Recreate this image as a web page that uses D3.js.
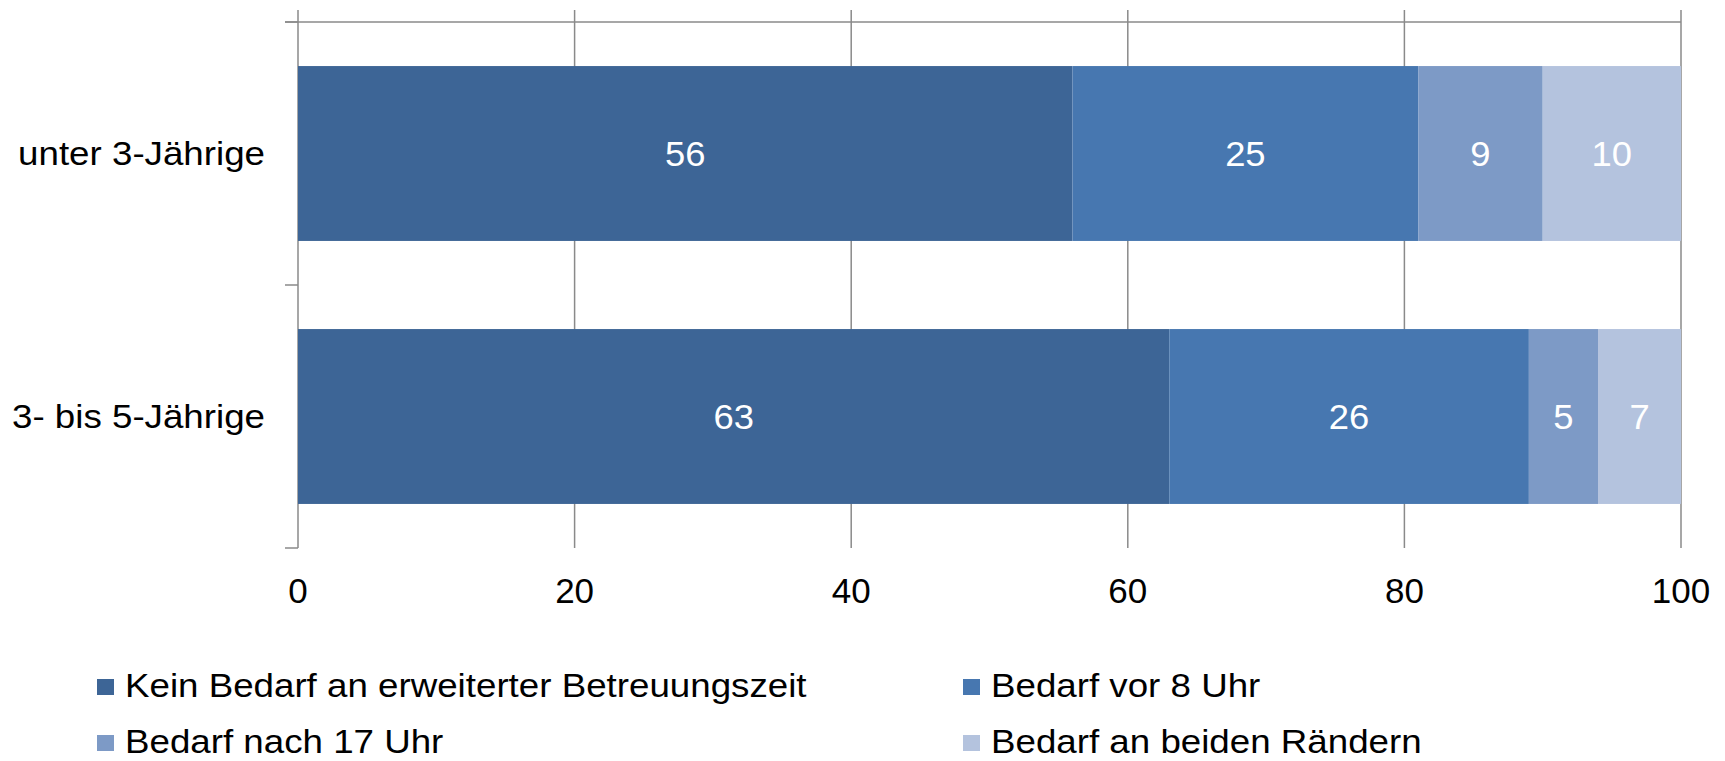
<!DOCTYPE html>
<meta charset="utf-8">
<script src="https://d3js.org/d3.v7.min.js"></script>
<style>
  body { margin: 0; background: #fff; }
  text { font-family: "Liberation Sans", Arial, sans-serif; }
</style>
<svg id="chart" width="1725" height="761"></svg>
<script>
  // data
  var categories = ["unter 3-Jährige", "3- bis 5-Jährige"];
  var series = ["Kein Bedarf an erweiterter Betreuungszeit", "Bedarf vor 8 Uhr",
                "Bedarf nach 17 Uhr", "Bedarf an beiden Rändern"];
  var kein = [56, 63];
  var vor8 = [25, 26];
  var nach17 = [9, 5];
  var beide = [10, 7];
  var xTicks = [0, 20, 40, 60, 80, 100];
  var colors = ["#3d6596", "#4777b0", "#7d9ac6", "#b4c3de"];

  var svg = d3.select("#chart");

  var x = d3.scaleLinear().domain([0, 100]).range([298, 1681]).clamp(true);
  var y = d3.scaleBand().domain(categories).range([22, 548])
      .paddingInner(0.335).paddingOuter(0.1675);

  var rows = categories.map(function(c, i) {
    return { cat: c, kein: kein[i], vor8: vor8[i], nach17: nach17[i], beide: beide[i] };
  });
  var keys = ["kein", "vor8", "nach17", "beide"];
  var stacked = d3.stack().keys(keys)(rows);

  // grid lines + top ticks
  svg.append("g")
    .selectAll("line")
    .data(xTicks)
    .enter()
    .append("line")
      .attr("x1", function(d){ return x(d) })
      .attr("x2", function(d){ return x(d) })
      .attr("y1", 10)
      .attr("y2", 548)
      .attr("stroke", "#8a8a8a")
      .attr("stroke-width", 1.5);

  // top axis line
  svg.append("line")
    .attr("x1", 285).attr("x2", x(100))
    .attr("y1", 22).attr("y2", 22)
    .attr("stroke", "#8a8a8a").attr("stroke-width", 1.5);

  // category axis ticks
  var catEdges = [22, (y(categories[0]) + y.bandwidth() + y(categories[1])) / 2, 548];
  svg.append("g")
    .selectAll("line")
    .data(catEdges)
    .enter()
    .append("line")
      .attr("x1", 285).attr("x2", 298)
      .attr("y1", function(d){ return d }).attr("y2", function(d){ return d })
      .attr("stroke", "#8a8a8a").attr("stroke-width", 1.5);

  // bars
  var layer = svg.append("g")
    .selectAll("g")
    .data(stacked)
    .enter()
    .append("g")
      .attr("fill", function(d, i){ return colors[i] });

  layer.selectAll("rect")
    .data(function(d){ return d })
    .enter()
    .append("rect")
      .attr("x", function(d){ return x(d[0]) })
      .attr("y", function(d){ return y(d.data.cat) })
      .attr("width", function(d){ return x(d[1]) - x(d[0]) })
      .attr("height", y.bandwidth());

  layer.selectAll("text")
    .data(function(d){ return d.map(function(p){ return { p: p, v: p[1] - p[0] } }) })
    .enter()
    .append("text")
      .attr("transform", function(d){
        return "translate(" + (x(d.p[0]) + x(d.p[1])) / 2 + "," + (y(d.p.data.cat) + y.bandwidth() / 2) + ") scale(1.04,1)";
      })
      .attr("dy", "0.35em")
      .attr("text-anchor", "middle")
      .attr("fill", "#fff")
      .style("font-size", "35px")
      .text(function(d){ return d.v });

  // x tick labels
  svg.append("g")
    .selectAll("text")
    .data(xTicks)
    .enter()
    .append("text")
      .attr("x", function(d){ return x(d) })
      .attr("y", 603)
      .attr("text-anchor", "middle")
      .style("font-size", "35px")
      .text(function(d){ return d });

  // category labels
  svg.append("g")
    .selectAll("text")
    .data(categories)
    .enter()
    .append("text")
      .attr("transform", function(d){
        return "translate(265," + (y(d) + y.bandwidth() / 2) + ") scale(1.08,1)";
      })
      .attr("dy", "0.35em")
      .attr("text-anchor", "end")
      .style("font-size", "34px")
      .text(function(d){ return d });

  // legend
  var legPos = [[97, 697], [963, 697], [97, 753], [963, 753]];
  var leg = svg.append("g")
    .selectAll("g")
    .data(series)
    .enter()
    .append("g")
      .attr("transform", function(d, i){ return "translate(" + legPos[i][0] + "," + legPos[i][1] + ")" });
  leg.append("rect")
    .attr("x", 0).attr("y", -18)
    .attr("width", 17).attr("height", 16)
    .attr("fill", function(d, i){ return colors[i] });
  leg.append("text")
    .attr("transform", "translate(28,0) scale(1.08,1)")
    .style("font-size", "34px")
    .text(function(d){ return d });
</script>
